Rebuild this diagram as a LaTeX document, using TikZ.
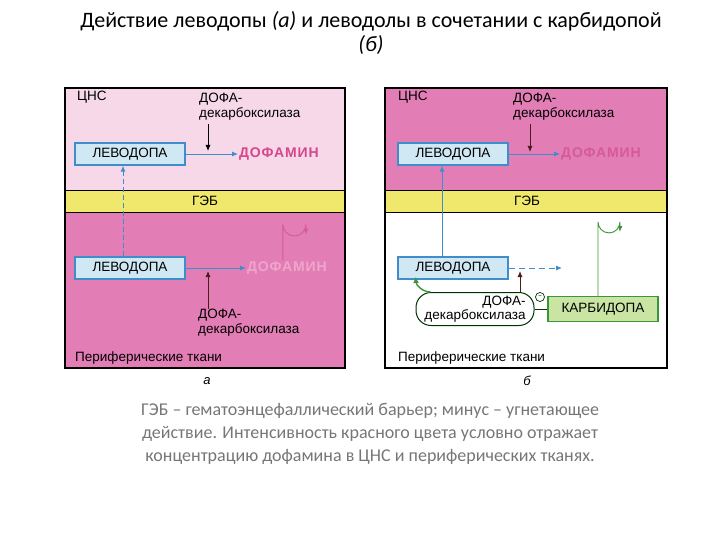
\documentclass[tikz,border=0pt]{standalone}
\usepackage{fontspec}
\setmainfont{Carlito}
\newfontfamily\diagfont{Liberation Sans}
\newfontfamily\dopafont[LetterSpace=6]{Liberation Sans}
\usetikzlibrary{arrows.meta,positioning}

\definecolor{cnslight}{HTML}{F6D8E8}
\definecolor{tissuepink}{HTML}{E37DB6}
\definecolor{bbbyellow}{HTML}{F0E86C}
\definecolor{boxblue}{HTML}{CFE8F4}
\definecolor{lineblue}{HTML}{3F8DCA}
\definecolor{dopamag}{HTML}{D6468C}
\definecolor{dopafaint}{HTML}{EEA6CD}
\definecolor{dopamid}{HTML}{D5599C}
\definecolor{carbgreen}{HTML}{CAE4A4}
\definecolor{linegreen}{HTML}{3A9638}
\definecolor{enzbrown}{HTML}{4A1C1C}
\definecolor{captgray}{HTML}{767676}

\tikzset{
  levbox/.style={draw=lineblue, line width=1.2pt, fill=boxblue, minimum width=110pt,
    minimum height=22pt, inner sep=0pt, font=\diagfont\fontsize{13.5}{15}\selectfont},
  dopa/.style={font=\dopafont\bfseries\fontsize{14}{15}\selectfont, inner sep=1pt},
  enz/.style={font=\diagfont\fontsize{13.5}{14.5}\selectfont, inner sep=0pt},
  small/.style={font=\diagfont\fontsize{13.5}{15}\selectfont, inner sep=0pt},
  carbbox/.style={draw=linegreen, line width=1.2pt, fill=carbgreen, minimum width=110pt,
    minimum height=25pt, inner sep=0pt, font=\diagfont\fontsize{13.5}{15}\selectfont},
  flow/.style={-{Latex[length=6pt,width=5pt]}, line width=0.9pt},
}

\begin{document}
\begin{tikzpicture}[x=1pt,y=-1pt]
  \useasboundingbox (0,0) rectangle (720,540);

  % title
  \node[font=\fontsize{22}{24}\selectfont, align=center] (title) at (371,33)
    {Действие леводопы \textit{(а)} и леводолы в сочетании с карбидопой\\ \textit{(б)}};

  % panel a
  \fill[cnslight] (65,88) rectangle (345,190);
  \fill[bbbyellow] (65,190) rectangle (345,212);
  \fill[tissuepink] (65,212) rectangle (345,368);
  \draw[line width=0.8pt] (65,190) -- (345,190) (65,212) -- (345,212);
  \draw[line width=1.2pt] (65,88) rectangle (345,368);

  \node[small, anchor=west] (cnsa) at (77,97) {ЦНС};
  \node[small] (bbba) at (205,201) {ГЭБ};
  \node[small, anchor=west] (pera) at (75,358) {Периферические ткани};
  \node[font=\diagfont\itshape\fontsize{13}{14}\selectfont] (laba) at (207,381) {а};

  \node[levbox] (levcnsa) at (130,154) {ЛЕВОДОПА};
  \node[dopa, text=dopamag, anchor=west] (dopcnsa) at (238,154) {ДОФАМИН};
  \node[enz, anchor=north west, align=left] (enzcnsa) at (199,93) {ДОФА-\\декарбоксилаза};
  \coordinate (hitcnsa) at (208,151);
  \draw[flow, lineblue] (levcnsa) -- (dopcnsa);
  \draw[flow, black] (enzcnsa.south -| hitcnsa) ++(0,4) -- (hitcnsa);

  \node[levbox] (levpera) at (130,268) {ЛЕВОДОПА};
  \node[dopa, text=dopafaint, anchor=west] (dopera) at (246,268) {ДОФАМИН};
  \node[enz, anchor=north west, align=left] (enzpera) at (198,309) {ДОФА-\\декарбоксилаза};
  \coordinate (hitpera) at (208,271);
  \draw[flow, lineblue] (levpera) -- (dopera);
  \draw[flow, enzbrown] (enzpera.north -| hitpera) -- (hitpera);
  \draw[flow, lineblue, dashed, dash pattern=on 5pt off 3pt]
    ([xshift=-7pt]levpera.north) -- ([xshift=-7pt]levcnsa.south);
  \draw[flow, dopamid] ([xshift=-4pt]dopera.north) -- ++(0,-36)
    arc (180:0:11.5) -- ++(0,10);

  % panel b
  \fill[tissuepink] (385,88) rectangle (667,190);
  \fill[bbbyellow] (385,190) rectangle (667,212);
  \fill[white] (385,212) rectangle (667,368);
  \draw[line width=0.8pt] (385,190) -- (667,190) (385,212) -- (667,212);
  \draw[line width=1.2pt] (385,88) rectangle (667,368);

  \node[small, anchor=west] (cnsb) at (398,97) {ЦНС};
  \node[small] (bbbb) at (527,201) {ГЭБ};
  \node[small, anchor=west] (perb) at (398,358) {Периферические ткани};
  \node[font=\diagfont\itshape\fontsize{13}{14}\selectfont] (labb) at (527,381) {б};

  \node[levbox] (levcnsb) at (453,154) {ЛЕВОДОПА};
  \node[dopa, text=dopamid, anchor=west] (dopcnsb) at (560,154) {ДОФАМИН};
  \node[enz, anchor=north west, align=left] (enzcnsb) at (513,93) {ДОФА-\\декарбоксилаза};
  \coordinate (hitcnsb) at (530,152);
  \draw[flow, lineblue] (levcnsb) -- (dopcnsb);
  \draw[flow, enzbrown] (enzcnsb.south -| hitcnsb) ++(0,4) -- (hitcnsb);

  \node[levbox] (levperb) at (453,268) {ЛЕВОДОПА};
  \coordinate (endperb) at (562,268);
  \draw[flow, lineblue, dash pattern=on 6pt off 4pt] (levperb) -- (endperb);
  \draw[flow, lineblue] ([xshift=-11pt]levperb.north) -- ([xshift=-11pt]levcnsb.south);

  \node[enz, draw=black!80!green, line width=1pt, rounded corners=15pt, align=right,
    minimum width=118pt, minimum height=33pt, inner xsep=3pt] (enzperb) at (475,309)
    {ДОФА-\\декарбоксилаза};
  \coordinate (hitperb) at (520,271);
  \draw[flow, enzbrown] (enzperb.north -| hitperb) -- (hitperb);
  \draw[linegreen, line width=1.4pt, -{Latex[length=6pt,width=6pt]}]
    ([xshift=15pt]enzperb.north west) arc (90:175:15 and 16.5);

  \node[carbbox] (carbb) at (603,309) {КАРБИДОПА};
  \draw[black!80!green, line width=1pt] (carbb.west) -- (enzperb.east);
  \node[draw=black!80!green, circle, line width=0.7pt, inner sep=0pt, minimum size=9pt,
    fill=white, font=\fontsize{8}{8}\selectfont] (minusb) at (540,297) {--};
  \draw[flow, linegreen] ([xshift=-5pt]carbb.north) -- ++(0,-74)
    arc (180:0:11) -- ++(0,10);

  % caption
  \node[font=\fontsize{18}{23}\selectfont, text=captgray, align=center] (capt) at (370,434)
    {ГЭБ -- гематоэнцефаллический барьер; минус -- угнетающее\\
     действие. Интенсивность красного цвета условно отражает\\
     концентрацию дофамина в ЦНС и периферических тканях.};
\end{tikzpicture}
\end{document}
